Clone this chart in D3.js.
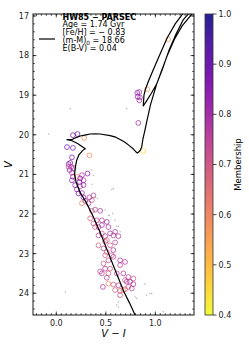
<!DOCTYPE html>
<html>
<head>
<meta charset="utf-8">
<script src="https://cdn.jsdelivr.net/npm/d3@7"></script>
<style>
  body { margin: 0; background: #fff; }
  svg { font-family: "DejaVu Sans", sans-serif; }
</style>
</head>
<body>
<div id="cmd"></div>
<script>
// isochrone track (V-I, V), HW85 PARSEC
const isoColor = [0.83, 0.795, 0.74, 0.684, 0.60, 0.52, 0.44, 0.37, 0.30, 0.24, 0.20, 0.185, 0.19, 0.205, 0.23, 0.265, 0.292,
  0.215, 0.158, 0.107, 0.16, 0.20, 0.241, 0.30, 0.342, 0.392, 0.443, 0.543, 0.60, 0.644, 0.694, 0.74, 0.778, 0.80, 0.818,
  0.835, 0.85, 0.862, 0.875, 0.895, 0.912, 0.95, 1.013, 1.06, 1.12, 1.19, 1.27, 1.38, 1.50, 1.45,
  1.35, 1.28, 1.21, 1.14, 1.07, 1.013, 0.96, 0.91, 0.878,
  0.885, 0.90, 0.93, 0.98, 1.05, 1.12, 1.20, 1.29, 1.35];
const isoMag = [24.75, 24.55, 24.25, 23.97, 23.45, 22.95, 22.45, 22.05, 21.70, 21.45, 21.20, 21.00, 20.85, 20.65, 20.50, 20.40, 20.35,
  20.22, 20.15, 20.12, 20.12, 20.07, 20.03, 20.00, 19.98, 19.975, 19.98, 20.02, 20.06, 20.12, 20.19, 20.28, 20.36, 20.42, 20.46,
  20.43, 20.38, 20.31, 20.10, 19.88, 19.68, 19.25, 18.72, 18.40, 18.00, 17.60, 17.25, 16.92, 16.50, 16.40,
  16.90, 17.10, 17.45, 17.85, 18.35, 18.72, 18.95, 19.15, 19.27,
  19.00, 18.85, 18.65, 18.35, 17.95, 17.55, 17.20, 16.90, 16.60];

// members: colour, magnitude, membership probability
const memColor = [0.168, 0.214, 0.282, 0.108, 0.168, 0.335, 0.158, 0.141, 0.124, 0.151, 0.134, 0.158, 0.315, 0.168, 0.208,
  0.241, 0.275, 0.158, 0.191, 0.241, 0.275, 0.208, 0.224, 0.259, 0.335, 0.275, 0.359, 0.292, 0.259, 0.325, 0.392, 0.443,
  0.342, 0.409, 0.460, 0.375, 0.510, 0.526, 0.392, 0.234, 0.375, 0.359, 0.426, 0.460, 0.426, 0.493, 0.543, 0.594, 0.576,
  0.627, 0.460, 0.510, 0.543, 0.476, 0.510, 0.493, 0.576, 0.644, 0.694, 0.644, 0.493, 0.543, 0.460, 0.526, 0.611, 0.677,
  0.727, 0.778, 0.694, 0.744, 0.526, 0.627, 0.727, 0.594, 0.644, 0.677, 0.493, 0.594, 0.426, 0.576, 0.560, 0.526, 0.476,
  0.510, 0.576, 0.470, 0.694, 0.762, 0.644, 0.711, 0.778, 0.174, 0.259, 0.124, 0.443,
  0.818, 0.838, 0.822, 0.845, 0.838, 0.828, 0.878, 0.918, 1.13];
const memMag = [20.01, 19.98, 20.08, 20.31, 20.33, 20.52, 20.57, 20.71, 20.74, 20.81, 20.89, 20.96, 20.98, 21.06, 21.06,
  21.10, 21.15, 21.15, 21.27, 21.30, 21.27, 21.38, 21.48, 21.47, 21.58, 21.58, 21.65, 21.67, 21.73, 21.73, 21.89, 21.92,
  22.11, 22.16, 22.16, 22.24, 22.20, 22.33, 22.33, 21.19, 21.53, 21.92, 22.33, 22.49, 22.54, 22.56, 22.49, 22.45, 22.54,
  22.56, 22.28, 22.66, 22.79, 22.87, 22.96, 23.04, 23.08, 23.17, 23.21, 23.29, 23.38, 23.38, 23.50, 23.50, 23.50, 23.50,
  23.59, 23.63, 23.67, 23.71, 23.76, 23.80, 23.84, 23.92, 23.94, 23.92, 22.70, 22.72, 22.79, 22.91, 23.04, 23.17, 23.25,
  23.61, 23.78, 23.84, 23.90, 23.88, 24.05, 23.71, 23.77, 20.84, 21.02, 20.81, 23.45,
  18.94, 18.92, 19.04, 19.06, 19.13, 19.70, 20.41, 18.85, 17.59];
const memProb = [0.88, 0.88, 0.58, 0.88, 0.85, 0.58, 0.85, 0.85, 0.85, 0.80, 0.85, 0.78, 0.85, 0.80, 0.60,
  0.85, 0.78, 0.85, 0.85, 0.75, 0.82, 0.85, 0.88, 0.80, 0.78, 0.82, 0.70, 0.80, 0.60, 0.75, 0.75, 0.78,
  0.68, 0.75, 0.75, 0.70, 0.82, 0.78, 0.68, 0.85, 0.75, 0.70, 0.75, 0.70, 0.75, 0.75, 0.78, 0.78, 0.75,
  0.78, 0.78, 0.68, 0.70, 0.75, 0.70, 0.68, 0.75, 0.78, 0.78, 0.75, 0.78, 0.70, 0.75, 0.68, 0.75, 0.78,
  0.75, 0.70, 0.70, 0.78, 0.58, 0.75, 0.70, 0.68, 0.68, 0.60, 0.70, 0.75, 0.68, 0.78, 0.70, 0.75, 0.68,
  0.75, 0.70, 0.78, 0.68, 0.75, 0.70, 0.78, 0.78, 0.80, 0.78, 0.72, 0.75,
  0.82, 0.80, 0.85, 0.78, 0.80, 0.80, 0.45, 0.55, 0.55];

// field stars (non-members)
const fieldColor = [0.141, 0.711, -0.077, 0.359, 0.375, 0.576, 0.560, 0.570, 0.536, 0.627, 0.644, 0.493, 0.594, 0.359,
  0.392, 0.416, 0.526, 0.091, 0.895, 0.912, 0.963, 0.627, 0.627, 0.627, 0.812, 0.946, 0.795, 1.080, 0.611, 0.611];
const fieldMag = [19.34, 19.34, 19.98, 20.89, 21.02, 21.36, 21.38, 21.99, 22.03, 22.31, 22.45, 21.90, 22.16, 21.25,
  21.57, 21.61, 22.03, 23.97, 23.77, 24.05, 24.01, 24.09, 24.22, 24.35, 24.13, 24.01, 24.09, 24.47, 24.30, 22.31];

const xTicks = [0.0, 0.5, 1.0];
const yTicks = [17, 18, 19, 20, 21, 22, 23, 24];
const cbTicks = [0.4, 0.5, 0.6, 0.7, 0.8, 0.9, 1.0];
const legendLines = ["Age = 1.74 Gyr", "[Fe/H] = \u2212 0.83", "(m-M)", "E(B-V) = 0.04"];

const W = 249, H = 347;
const plot = { left: 33, top: 14, right: 194, bottom: 315 };
const cbar = { left: 205, right: 213 };

const svg = d3.select("#cmd").append("svg")
  .attr("width", W).attr("height", H);

const x = d3.scaleLinear().domain([-0.235, 1.39]).range([plot.left, plot.right]);
const y = d3.scaleLinear().domain([16.95, 24.55]).range([plot.top, plot.bottom]);
const cb = d3.scaleLinear().domain([0.4, 1.0]).range([plot.bottom, plot.top]);
const memColorScale = m => d3.interpolatePlasma(1 - (m - 0.4) / 0.6);

svg.append("defs").append("clipPath").attr("id", "clip")
  .append("rect")
  .attr("x", plot.left).attr("y", plot.top)
  .attr("width", plot.right - plot.left).attr("height", plot.bottom - plot.top);

const g = svg.append("g").attr("clip-path", "url(#clip)");

// field stars
g.selectAll("circle.field")
  .data(d3.range(fieldColor.length))
  .enter().append("circle")
  .attr("cx", i => x(fieldColor[i]))
  .attr("cy", i => y(fieldMag[i]))
  .attr("r", 0.8)
  .attr("fill", "#bdbdbd");

// members
g.selectAll("circle.mem")
  .data(d3.range(memColor.length))
  .enter().append("circle")
  .attr("cx", i => x(memColor[i]))
  .attr("cy", i => y(memMag[i]))
  .attr("r", 2.4)
  .attr("fill", "none")
  .attr("stroke", i => memColorScale(memProb[i]))
  .attr("stroke-opacity", 0.85)
  .attr("stroke-width", 0.8);

// isochrone
const line = d3.line().x(d => x(d[0])).y(d => y(d[1]));
g.append("path")
  .attr("d", line(isoColor.map((c, i) => [c, isoMag[i]])))
  .attr("fill", "none")
  .attr("stroke", "#000")
  .attr("stroke-width", 1.2)
  .attr("stroke-linejoin", "round");

// frame and ticks
svg.append("rect")
  .attr("x", plot.left).attr("y", plot.top)
  .attr("width", plot.right - plot.left).attr("height", plot.bottom - plot.top)
  .attr("fill", "none").attr("stroke", "#000").attr("stroke-width", 0.9);

const xMinor = d3.range(-0.2, 1.4, 0.05).filter(v => v <= 1.39);
const yMinor = d3.range(17, 24.6, 0.2).filter(v => v <= 24.55);
const tickG = svg.append("g").attr("stroke", "#000").attr("stroke-width", 0.7);

function xTick(v, len) {
  tickG.append("line").attr("x1", x(v)).attr("x2", x(v)).attr("y1", plot.bottom).attr("y2", plot.bottom - len);
  tickG.append("line").attr("x1", x(v)).attr("x2", x(v)).attr("y1", plot.top).attr("y2", plot.top + len);
}
function yTick(v, len) {
  tickG.append("line").attr("y1", y(v)).attr("y2", y(v)).attr("x1", plot.left).attr("x2", plot.left + len);
  tickG.append("line").attr("y1", y(v)).attr("y2", y(v)).attr("x1", plot.right).attr("x2", plot.right - len);
}
xMinor.forEach(v => xTick(v, 1.8));
yMinor.forEach(v => yTick(v, 1.8));
xTicks.forEach(v => xTick(v, 3.5));
yTicks.forEach(v => yTick(v, 3.5));

svg.append("g").selectAll("text")
  .data(xTicks).enter().append("text")
  .attr("x", d => x(d)).attr("y", plot.bottom + 10.5)
  .attr("text-anchor", "middle").attr("font-size", 8).attr("fill", "#222")
  .text(d => d.toFixed(1));

svg.append("g").selectAll("text")
  .data(yTicks).enter().append("text")
  .attr("x", plot.left - 4).attr("y", d => y(d) + 2.9)
  .attr("text-anchor", "end").attr("font-size", 8).attr("fill", "#222")
  .text(d => d);

// axis labels
svg.append("text")
  .attr("x", (plot.left + plot.right) / 2).attr("y", 337)
  .attr("text-anchor", "middle").attr("font-size", 10).attr("font-style", "italic")
  .text("V \u2212 I");
svg.append("text")
  .attr("transform", `translate(12,${(plot.top + plot.bottom) / 2}) rotate(-90)`)
  .attr("text-anchor", "middle").attr("font-size", 10).attr("font-style", "italic")
  .text("V");

// legend
svg.append("line")
  .attr("x1", 39).attr("x2", 55).attr("y1", 39).attr("y2", 39)
  .attr("stroke", "#000").attr("stroke-width", 1.2);
const lg = svg.append("g").attr("font-size", 8).attr("fill", "#000");
lg.append("text").attr("x", 62.5).attr("y", 19.8).attr("font-weight", "bold").text("HW85 \u2212 PARSEC");
lg.append("text").attr("x", 62.5).attr("y", 27.3).text(legendLines[0]);
lg.append("text").attr("x", 62.5).attr("y", 34.8).text(legendLines[1]);
const mm = lg.append("text").attr("x", 62.5).attr("y", 43);
mm.append("tspan").text(legendLines[2]);
mm.append("tspan").attr("font-size", 5.8).attr("dy", 1.8).text("0");
mm.append("tspan").attr("dy", -1.8).text(" = 18.66");
lg.append("text").attr("x", 62.5).attr("y", 51.3).text(legendLines[3]);

// colorbar
const grad = svg.select("defs").append("linearGradient")
  .attr("id", "cbGrad").attr("x1", 0).attr("y1", 1).attr("x2", 0).attr("y2", 0);
grad.selectAll("stop")
  .data(d3.range(0, 1.0001, 0.05)).enter().append("stop")
  .attr("offset", d => d * 100 + "%")
  .attr("stop-color", d => memColorScale(0.4 + d * 0.6));
svg.append("rect")
  .attr("x", cbar.left).attr("y", plot.top)
  .attr("width", cbar.right - cbar.left).attr("height", plot.bottom - plot.top)
  .attr("fill", "url(#cbGrad)").attr("fill-opacity", 0.9)
  .attr("stroke", "#333").attr("stroke-width", 0.8);

const cbG = svg.append("g");
cbG.selectAll("line").data(cbTicks).enter().append("line")
  .attr("x1", cbar.right).attr("x2", cbar.right + 3.5)
  .attr("y1", d => cb(d)).attr("y2", d => cb(d))
  .attr("stroke", "#000").attr("stroke-width", 0.7);
cbG.selectAll("text").data(cbTicks).enter().append("text")
  .attr("x", cbar.right + 5.5).attr("y", d => cb(d) + 2.9)
  .attr("font-size", 8).attr("fill", "#222")
  .text(d => d.toFixed(1));
svg.append("text")
  .attr("transform", `translate(241,${(plot.top + plot.bottom) / 2}) rotate(-90)`)
  .attr("text-anchor", "middle").attr("font-size", 8.5)
  .text("Membership");
</script>
</body>
</html>
